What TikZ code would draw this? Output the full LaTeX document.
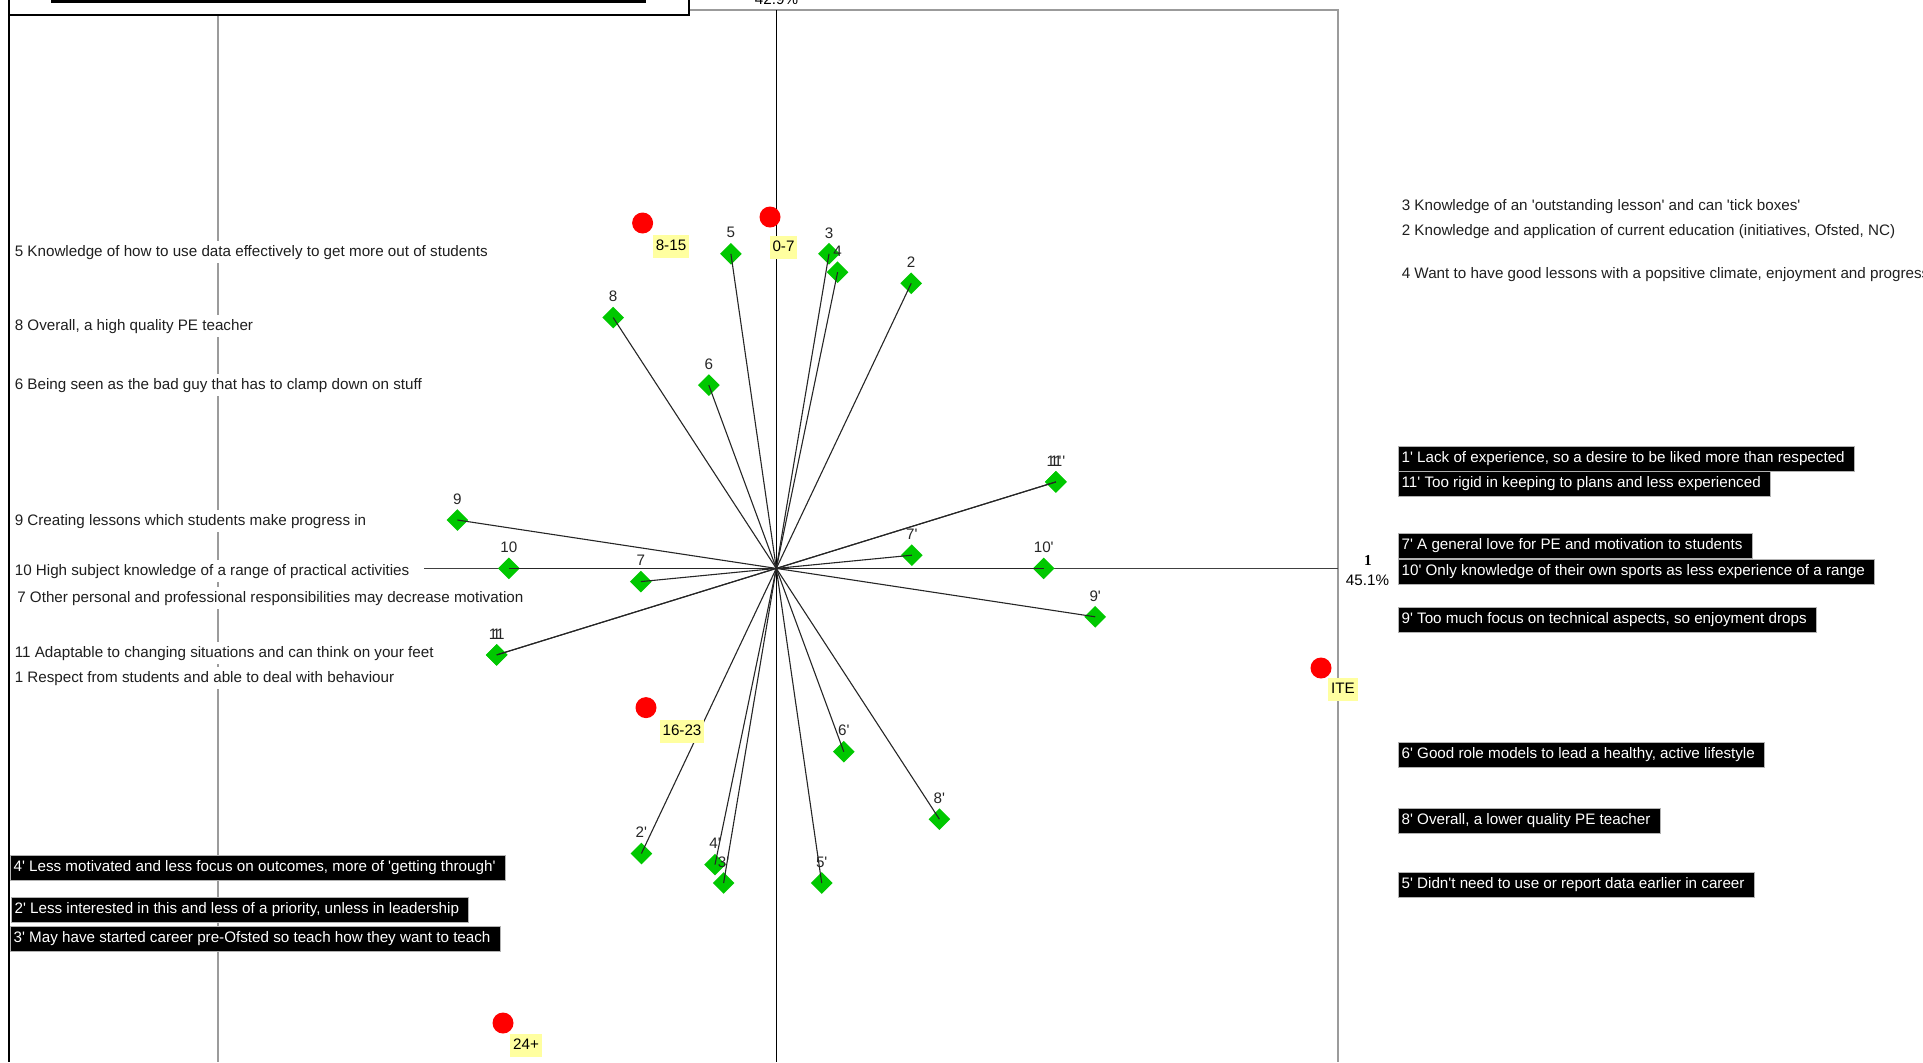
\documentclass[tikz,border=0pt]{standalone}
\usepackage{fontspec}
\setmainfont{Liberation Sans}
\newfontfamily\serifbold{Liberation Serif}
\newcommand{\sq}{\textquotesingle}
\usetikzlibrary{shapes.geometric}
\definecolor{ptgreen}{RGB}{0,200,0}
\definecolor{tagyellow}{RGB}{255,255,160}
\definecolor{framegray}{RGB}{155,155,155}
\begin{document}
\begin{tikzpicture}[x=0.5pt, y=-0.5pt, font=\fontsize{7.6pt}{9pt}\selectfont,
  txt/.style={anchor=west, inner xsep=1.2pt, inner ysep=0pt, text height=5.6pt, text depth=1.6pt, minimum height=11pt, yshift=-1.2pt},
  lefttxt/.style={txt, fill=white, text=black!88},
  righttxt/.style={txt, text=black!88},
  darkbox/.style={txt, fill=black, text=white, draw=black!30, line width=0.4pt, minimum height=12.5pt, inner xsep=1.6pt,
                  execute at end node={\hspace{3.2pt}}},
  dia/.style={diamond, fill=ptgreen, inner sep=0pt, minimum width=11pt, minimum height=11pt},
  num/.style={inner sep=0pt, text=black!85},
  agedot/.style={circle, fill=red, inner sep=0pt, minimum size=10.5pt},
  agetag/.style={fill=tagyellow, inner xsep=1.5pt, inner ysep=0pt, minimum height=11.5pt, text height=5.6pt, text depth=1.4pt, yshift=-0.5pt},
  spoke/.style={line width=0.55pt, black!85}]
\useasboundingbox (0,0) rectangle (1923,1062);
\clip (0,0) rectangle (1923,1062);

% frame and axes
\draw[framegray, line width=0.8pt] (689,9.8) -- (1338,9.8) -- (1338,1062);
\draw[framegray, line width=0.8pt] (218,14) -- (218,1062);
\draw[black, line width=0.8pt] (9,0) -- (9,1062);
\draw[black, line width=0.8pt] (776.5,9.8) -- (776.5,1062);
\draw[black!75, line width=0.8pt] (424,568.4) -- (1338,568.4);

% legend box at the top left
\draw[black, line width=0.8pt, fill=white] (9,-5) rectangle (689,14.7);
\draw[line width=1.8pt] (51,1) -- (646,1);

% axis captions
\node[anchor=base, inner sep=0pt] (ax2) at (776.5,4) {42.9\%};
\node[inner sep=0pt] (ax1) at (1368,560) {\serifbold\bfseries 1};
\node[inner sep=0pt] (ax1p) at (1367.5,580) {45.1\%};

% left-hand pole texts
\node[lefttxt] (t5) at (12,250) {5 Knowledge of how to use data effectively to get more out of students};
\node[lefttxt] (t8) at (12,324) {8 Overall, a high quality PE teacher};
\node[lefttxt] (t6) at (12,383) {6 Being seen as the bad guy that has to clamp down on stuff};
\node[lefttxt] (t9) at (12,519) {9 Creating lessons which students make progress in};
\node[lefttxt] (t10) at (12,569) {10 High subject knowledge of a range of practical activities};
\node[lefttxt] (t7) at (14.5,596) {7 Other personal and professional responsibilities may decrease motivation};
\node[lefttxt] (t11) at (12,651) {11 Adaptable to changing situations and can think on your feet};
\node[lefttxt] (t1) at (12,676) {1 Respect from students and able to deal with behaviour};

% right-hand pole texts
\node[righttxt] (t3) at (1399,203.6) {3 Knowledge of an \sq outstanding lesson\sq{} and can \sq tick boxes\sq};
\node[righttxt] (t2) at (1399,229.3) {2 Knowledge and application of current education (initiatives, Ofsted, NC)};
\node[righttxt] (t4) at (1399,272) {4 Want to have good lessons with a popsitive climate, enjoyment and progress};

% contrast poles
\node[darkbox] (t1p) at (1398,456) {1\sq{} Lack of experience, so a desire to be liked more than respected};
\node[darkbox] (t11p) at (1398,481.5) {11\sq{} Too rigid in keeping to plans and less experienced};
\node[darkbox] (t7p) at (1398,543) {7\sq{} A general love for PE and motivation to students};
\node[darkbox] (t10p) at (1398,569) {10\sq{} Only knowledge of their own sports as less experience of a range};
\node[darkbox] (t9p) at (1398,617) {9\sq{} Too much focus on technical aspects, so enjoyment drops};
\node[darkbox] (t6p) at (1398,752) {6\sq{} Good role models to lead a healthy, active lifestyle};
\node[darkbox] (t8p) at (1398,818) {8\sq{} Overall, a lower quality PE teacher};
\node[darkbox] (t5p) at (1398,882) {5\sq{} Didn\sq t need to use or report data earlier in career};
\node[darkbox] (t4p) at (10,865) {4\sq{} Less motivated and less focus on outcomes, more of \sq getting through\sq};
\node[darkbox] (t2p) at (11,907.5) {2\sq{} Less interested in this and less of a priority, unless in leadership};
\node[darkbox] (t3p) at (10,936) {3\sq{} May have started career pre-Ofsted so teach how they want to teach};

% construct points, each pole mirrored through the origin
\begin{scope}[shift={(776.3,568.4)}]
  \coordinate (O) at (0,0);
  \foreach \n/\vx/\vy in {5/-45.4/-314.6, 3/52.7/-314.6, 4/61.3/-296.2, 2/134.9/-285.1,
                          8/-163.1/-250.8, 6/-67.5/-183.3, 9/-318.9/-48.4, 10/-267.4/0,
                          7/-135.5/13.2, 11/-279.6/86.5, 1/-279.6/86.5} {
    \node[dia] (d\n) at (\vx,\vy) {};
    \node[dia] (d\n p) at (-\vx,-\vy) {};
  }
  \foreach \n in {5,3,4,2,8,6,9,10,7,11,1} {
    \draw[spoke] (d\n.center) -- (d\n p.center);
  }
  \foreach \n in {5,3,4,2,8,6,9,10,7} {
    \path (d\n) ++(0,-21) node[num] {\n};
    \path (d\n p) ++(0,-21) node[num] {\n\sq};
  }
  \path (d11) ++(0,-21) node[num] {11};
  \path (d1) ++(0,-21) node[num] {1};
  \path (d11p) ++(0,-21) node[num] {11\sq};
  \path (d1p) ++(0,-21) node[num] {1\sq};
\end{scope}

% group markers
\node[agedot] (g1) at (642.6,223) {};
\node[agetag] (g1t) at (671,245) {8-15};
\node[agedot] (g0) at (770,217) {};
\node[agetag] (g0t) at (783.5,246.5) {0-7};
\node[agedot] (g2) at (646,707.6) {};
\node[agetag] (g2t) at (682,730) {16-23};
\node[agedot] (gi) at (1321,668) {};
\node[agetag] (git) at (1343,688) {ITE};
\node[agedot] (g3) at (503,1023) {};
\node[agetag] (g3t) at (526,1044) {24+};
\end{tikzpicture}
\end{document}
